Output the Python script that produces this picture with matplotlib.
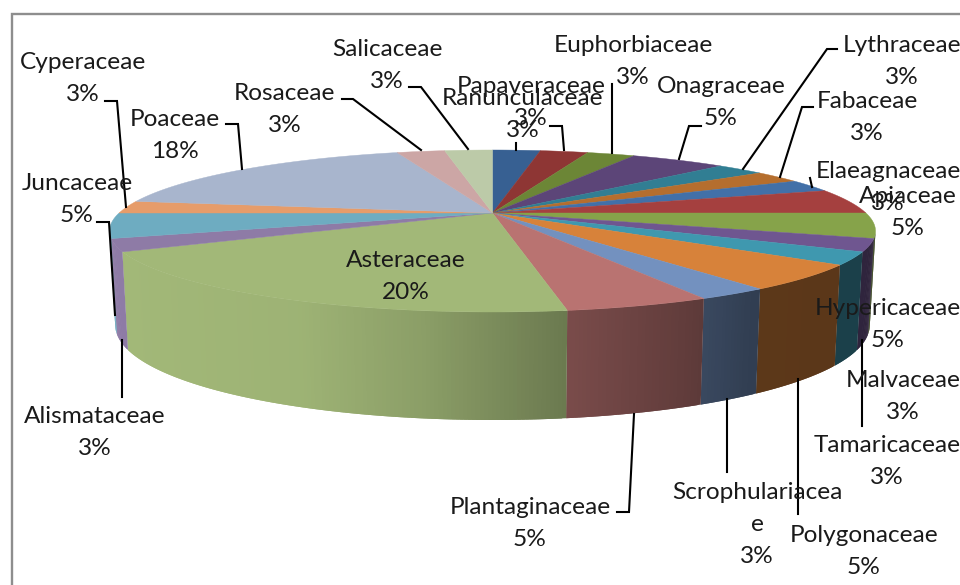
"""Pie 3D de familias botanicas (estilo Excel), dibujada en coordenadas de pixel."""
import numpy as np
import matplotlib
matplotlib.use("Agg")
import matplotlib.pyplot as plt
from matplotlib.colors import to_rgb

# ── Datos ─────────────────────────────────────────────────────────────────────
families = ["Ranunculaceae", "Papaveraceae", "Euphorbiaceae", "Onagraceae", "Lythraceae",
            "Fabaceae", "Elaeagnaceae", "Apiaceae", "Hypericaceae", "Malvaceae",
            "Tamaricaceae", "Polygonaceae", "Scrophulariacea\ne", "Plantaginaceae",
            "Asteraceae", "Alismataceae", "Juncaceae", "Cyperaceae", "Poaceae",
            "Rosaceae", "Salicaceae"]
shares = [2.5, 2.5, 2.5, 5, 2.5, 2.5, 2.5, 5, 5, 2.5, 2.5, 5, 2.5, 5, 20, 2.5, 5, 2.5, 17.5, 2.5, 2.5]
share_labels = ["3%", "3%", "3%", "5%", "3%", "3%", "3%", "5%", "5%", "3%", "3%", "5%", "3%", "5%",
                "20%", "3%", "5%", "3%", "18%", "3%", "3%"]

# ── Estilo ────────────────────────────────────────────────────────────────────
colors = ["#376092", "#8E3634", "#6C8636", "#5C4578", "#317E93", "#B56E2E", "#4270A8",
          "#A5403F", "#86A34A", "#6F5690", "#3F98AF", "#D7823A", "#7391BF", "#B97371",
          "#A2B878", "#8E7BA6", "#6EACC1", "#E69C6A", "#A8B5CD", "#CCA6A5", "#BCCAA8"]
FONT = "Lato"
FONT_SIZE = 17.6
LINE_GAP = 32
TEXT_COLOR = "#1A1A1A"

# Geometria de la elipse en perspectiva (pixeles)
CX, CY_ELLIPSE = 492.5, 231
RX, RY = 383, 81
PIE_CY = 213
K = (PIE_CY - CY_ELLIPSE) / RY
C = RX * np.sqrt(1 - K ** 2)

# Posicion (centro de la primera linea) de cada etiqueta
label_pos = [(523, 97), (531, 85), (633, 44), (721, 85), (902, 44), (867, 100), (888, 170),
             (908, 195), (888, 307), (903, 379), (887, 444), (864, 534), (757, 491), (530, 506),
             (406, 259), (95, 415), (77, 182), (83, 61), (175, 118), (285, 92), (387, 48)]

leaders = [[(516, 143), (516, 150)],
           [(550, 126), (562, 126), (564, 150)],
           [(612, 84), (612, 153)],
           [(701, 126), (689, 126), (679, 159)],
           [(837, 49), (827, 49), (743, 169)],
           [(813, 107), (802, 107), (780, 177)],
           [(810, 178), (812, 187)],
           [(862, 340), (862, 426)],
           [(798, 379), (798, 514)],
           [(727, 399), (727, 472)],
           [(617, 512), (629, 512), (634, 414)],
           [(122, 340), (122, 397)],
           [(97, 222), (109, 222), (115, 315)],
           [(105, 101), (117, 101), (126, 207)],
           [(226, 124), (238, 124), (242, 169)],
           [(342, 99), (353, 99), (421, 150)],
           [(409, 87), (421, 87), (468, 149)]]


def top_rim(theta):
    """Punto del borde superior; theta en grados, horario desde las 12."""
    t = np.radians(theta)
    u, v = np.sin(t), -np.cos(t)
    w = 1 + K * v
    return CX + C * u / w, CY_ELLIPSE + (RY * v + RY * K) / w, v


def bottom_rim(theta):
    x, y, v = top_rim(theta)
    return CX + (x - CX) * 0.985, y + 90 + 18 * v


def wall_shade(x):
    return np.interp(x, [122, 300, 420, 565, 690, 750, 870], [1.0, 0.97, 0.86, 0.66, 0.52, 0.43, 0.42])


fig = plt.figure(figsize=(9.6, 5.85), dpi=100)
ax = fig.add_axes([0, 0, 1, 1])
ax.set_xlim(0, 960)
ax.set_ylim(585, 0)
ax.axis("off")

# Marco gris (solo se ven los lados izquierdo y superior)
ax.plot([12, 12, 960], [585, 14, 14], color="#8E8E8E", lw=1.7, solid_joinstyle="miter", zorder=1)

edges = np.concatenate([[0], np.cumsum(shares)]) * 3.6
vis_min = np.degrees(np.arccos(K))  # extremo de la silueta
vis_max = 360 - vis_min

# Pared lateral: tiras solapadas para que no se vean costuras
for start, end, col in zip(edges[:-1], edges[1:], colors):
    a, b = max(start, vis_min), min(end, vis_max)
    if a >= b:
        continue
    steps = np.append(np.arange(a, b, 0.5), b)
    base = np.array(to_rgb(col))
    for i, t0 in enumerate(steps[:-1]):
        t1 = steps[min(i + 2, len(steps) - 1)]
        x0, y0, _ = top_rim(t0)
        x1, y1, _ = top_rim(t1)
        x2, y2 = bottom_rim(t1)
        x3, y3 = bottom_rim(t0)
        shade = base * wall_shade((x0 + x1) / 2)
        ax.fill([x0, x1, x2, x3], [y0, y1, y2, y3], color=shade, lw=0, zorder=2)

# Cara superior
for start, end, col in zip(edges[:-1], edges[1:], colors):
    arc = np.linspace(start, end, max(int(end - start) * 2, 8))
    xs, ys, _ = top_rim(arc)
    ax.fill(np.r_[CX, xs], np.r_[PIE_CY, ys], color=col, lw=0.3, zorder=3)

# Lineas guia
for pts in leaders:
    xs, ys = zip(*pts)
    ax.plot(xs, ys, color="black", lw=1.5, solid_joinstyle="miter", zorder=4)

# Etiquetas
for name, pct, (lx, ly) in zip(families, share_labels, label_pos):
    for i, line in enumerate(name.split("\n") + [pct]):
        ax.text(lx, ly + 8 + i * LINE_GAP, line, family=FONT, fontsize=FONT_SIZE,
                color=TEXT_COLOR, ha="center", va="baseline", zorder=5, clip_on=True)

fig.savefig("out.png", dpi=100, facecolor="white")
